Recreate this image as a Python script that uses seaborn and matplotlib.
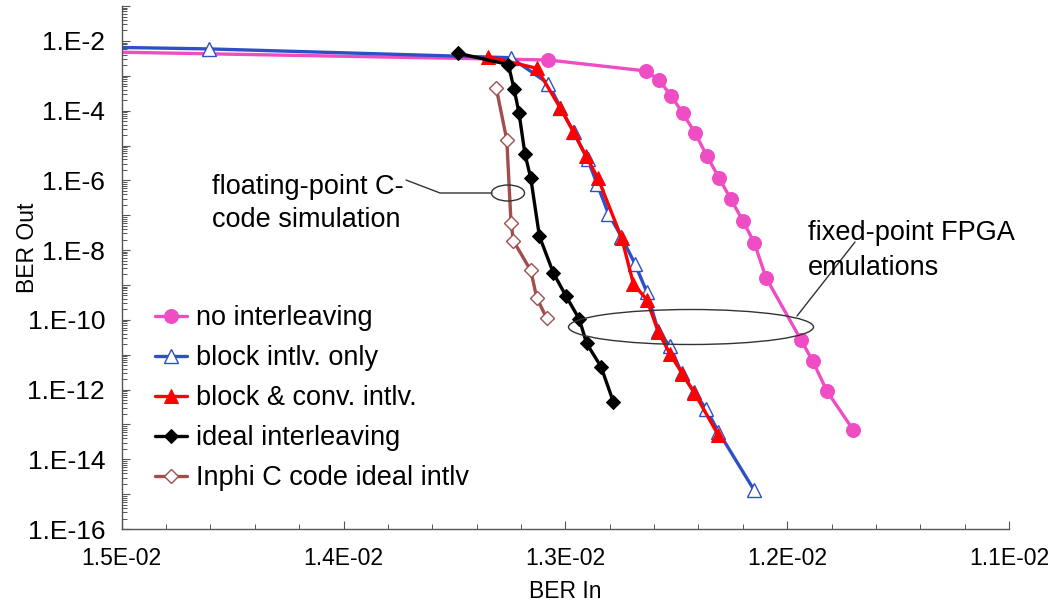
import matplotlib
matplotlib.use("Agg")
import matplotlib.pyplot as plt
import seaborn as sns
from matplotlib.patches import Ellipse
from matplotlib.lines import Line2D
from matplotlib.ticker import FixedLocator, MultipleLocator, FuncFormatter
import numpy as np

# BER In (x) and BER Out (y)
no_intlv_x = [0.0152, 0.013078, 0.012635, 0.012578, 0.012523, 0.012471, 0.012415,
              0.012362, 0.012308, 0.012254, 0.0122, 0.012148, 0.012095, 0.011937,
              0.011885, 0.011821, 0.011702]
no_intlv_y = [5.0e-3, 2.84e-3, 1.37e-3, 7.4e-4, 2.7e-4, 8.4e-5, 2.3e-5,
              5.0e-6, 1.2e-6, 2.9e-7, 7.0e-8, 1.6e-8, 1.6e-9, 2.6e-11,
              6.6e-12, 9.1e-13, 6.9e-14]

block_x = [0.0152, 0.014606, 0.013245, 0.013077, 0.013022, 0.012963, 0.0129,
           0.012857, 0.012806, 0.012747, 0.012686, 0.012632, 0.012581, 0.012529,
           0.012475, 0.01242, 0.012366, 0.01231, 0.012149]
block_y = [6.8e-3, 5.9e-3, 3.3e-3, 6.0e-4, 1.23e-4, 2.45e-5, 4.1e-6,
           7.9e-7, 1.12e-7, 2.4e-8, 4.0e-9, 6.1e-10, 4.7e-11, 1.78e-11,
           2.9e-12, 8.5e-13, 2.8e-13, 6.2e-14, 1.3e-15]

conv_x = [0.01335, 0.013129, 0.013024, 0.012964, 0.012908, 0.012854, 0.012746,
          0.012693, 0.012633, 0.012581, 0.012528, 0.012472, 0.012419, 0.012312]
conv_y = [3.54e-3, 1.64e-3, 1.22e-4, 2.5e-5, 5.0e-6, 1.2e-6, 2.2e-8,
          1.07e-9, 3.8e-10, 4.5e-11, 1.05e-11, 2.8e-12, 8.2e-13, 5.1e-14]

ideal_x = [0.013482, 0.013257, 0.013231, 0.013209, 0.013182, 0.013156, 0.013117,
           0.013054, 0.012997, 0.012937, 0.012904, 0.012839, 0.012784]
ideal_y = [4.4e-3, 2.1e-3, 4.1e-4, 8.7e-5, 5.6e-6, 1.17e-6, 2.5e-8,
           2.2e-9, 4.8e-10, 1.04e-10, 2.1e-11, 4.5e-12, 4.5e-13]

inphi_x = [0.013312, 0.013264, 0.013245, 0.013234, 0.013156, 0.013129, 0.013084]
inphi_y = [4.6e-4, 1.44e-5, 6.1e-8, 1.83e-8, 2.6e-9, 4.3e-10, 1.1e-10]

x_ticks = [0.015, 0.014, 0.013, 0.012, 0.011]

sns.set_style("white")
plt.rcParams['font.family'] = ['Liberation Sans', 'DejaVu Sans']
plt.rcParams['text.color'] = 'black'
plt.rcParams['axes.labelcolor'] = 'black'

fig = plt.figure(figsize=(10.64, 6.05), dpi=100)
ax = fig.add_axes([0.1144, 0.1256, 0.8339, 0.8644])
ax.set_yscale('log')

pink = '#EF4DC3'
blue = '#2F4FC8'
red = '#FF0000'
brown = '#A24E4C'

sns.lineplot(x=no_intlv_x, y=no_intlv_y, ax=ax, sort=False, estimator=None,
             color=pink, lw=2.4, marker='o', markersize=10, markeredgecolor=pink,
             label='no interleaving')
sns.lineplot(x=block_x, y=block_y, ax=ax, sort=False, estimator=None,
             color=blue, lw=2.4, marker='^', markersize=10, markerfacecolor='white',
             markeredgecolor=blue, markeredgewidth=1.0, label='block intlv. only')
sns.lineplot(x=conv_x, y=conv_y, ax=ax, sort=False, estimator=None,
             color=red, lw=2.4, marker='^', markersize=10, markeredgecolor=red,
             label='block & conv. intlv.')
sns.lineplot(x=ideal_x, y=ideal_y, ax=ax, sort=False, estimator=None,
             color='black', lw=2.4, marker='D', markersize=7, markeredgecolor='black',
             label='ideal interleaving')
sns.lineplot(x=inphi_x, y=inphi_y, ax=ax, sort=False, estimator=None,
             color=brown, lw=2.4, marker='D', markersize=7, markerfacecolor='white',
             markeredgecolor=brown, markeredgewidth=1.0,
             label='Inphi C code ideal intlv')

ax.set_xlim(0.015, 0.011)
ax.set_ylim(1e-16, 1e-1)

ax.xaxis.set_major_locator(FixedLocator(x_ticks))
ax.xaxis.set_minor_locator(MultipleLocator(0.0002))
ax.xaxis.set_major_formatter(FuncFormatter(lambda v, p: f"{v:.1E}"))

ax.yaxis.set_major_locator(FixedLocator([10.0 ** e for e in range(-16, 0)]))
ax.yaxis.set_minor_locator(FixedLocator([m * 10.0 ** e for e in range(-16, -1) for m in range(2, 10)]))


def y_fmt(v, p):
    e = int(round(np.log10(v)))
    return f"1.E{e}" if e % 2 == 0 else ""


ax.yaxis.set_major_formatter(FuncFormatter(y_fmt))

for s in ['top', 'right']:
    ax.spines[s].set_visible(False)
for s in ['left', 'bottom']:
    ax.spines[s].set_color('#555555')
    ax.spines[s].set_linewidth(1.0)

ax.tick_params(axis='both', which='both', bottom=True, left=True, top=False, right=False)
ax.tick_params(axis='both', which='major', direction='in', length=6, width=0.8,
               color='#555555', labelcolor='black')
ax.tick_params(axis='both', which='minor', direction='in', length=3.5, width=0.7,
               color='#555555')
ax.tick_params(axis='x', which='major', labelsize=16.5, pad=13)
ax.tick_params(axis='y', which='major', labelsize=19, pad=12)

ax.set_xlabel('BER In', fontsize=16.5)
ax.set_ylabel('BER Out', fontsize=16.5)
ax.xaxis.set_label_coords(0.5, -0.098)
ax.yaxis.set_label_coords(-0.093, 0.537)

leg = ax.legend(loc='upper left', bbox_to_anchor=(155 / 1064, 1 - 305 / 605),
                bbox_transform=fig.transFigure, frameon=False, fontsize=19.5,
                handlelength=1.18, handletextpad=0.33, labelspacing=0.52,
                borderpad=0, borderaxespad=0)

# annotations (pixel positions converted to figure fraction)
W, H = 1064, 605


def fx(px):
    return px / W


def fy(py):
    return 1 - py / H


fig.text(fx(212), fy(187), 'floating-point C-', fontsize=19.5, va='center', ha='left')
fig.text(fx(212), fy(220), 'code simulation', fontsize=19.5, va='center', ha='left')
fig.text(fx(808), fy(233), 'fixed-point FPGA', fontsize=19.5, va='center', ha='left')
fig.text(fx(808), fy(268), 'emulations', fontsize=19.5, va='center', ha='left')

fig.add_artist(Ellipse((fx(508), fy(193)), 33 / W, 16 / H, transform=fig.transFigure,
                       fill=False, edgecolor='#333333', lw=1.0))
fig.add_artist(Ellipse((fx(691), fy(327)), 245 / W, 35 / H, transform=fig.transFigure,
                       fill=False, edgecolor='#333333', lw=1.0))
fig.add_artist(Line2D([fx(406), fx(440), fx(492)], [fy(180), fy(193), fy(193)],
                      transform=fig.transFigure, color='#333333', lw=1.0))
fig.add_artist(Line2D([fx(797), fx(855)], [fy(316), fy(242)],
                      transform=fig.transFigure, color='#333333', lw=1.0))

fig.savefig('out.png', dpi=100)
